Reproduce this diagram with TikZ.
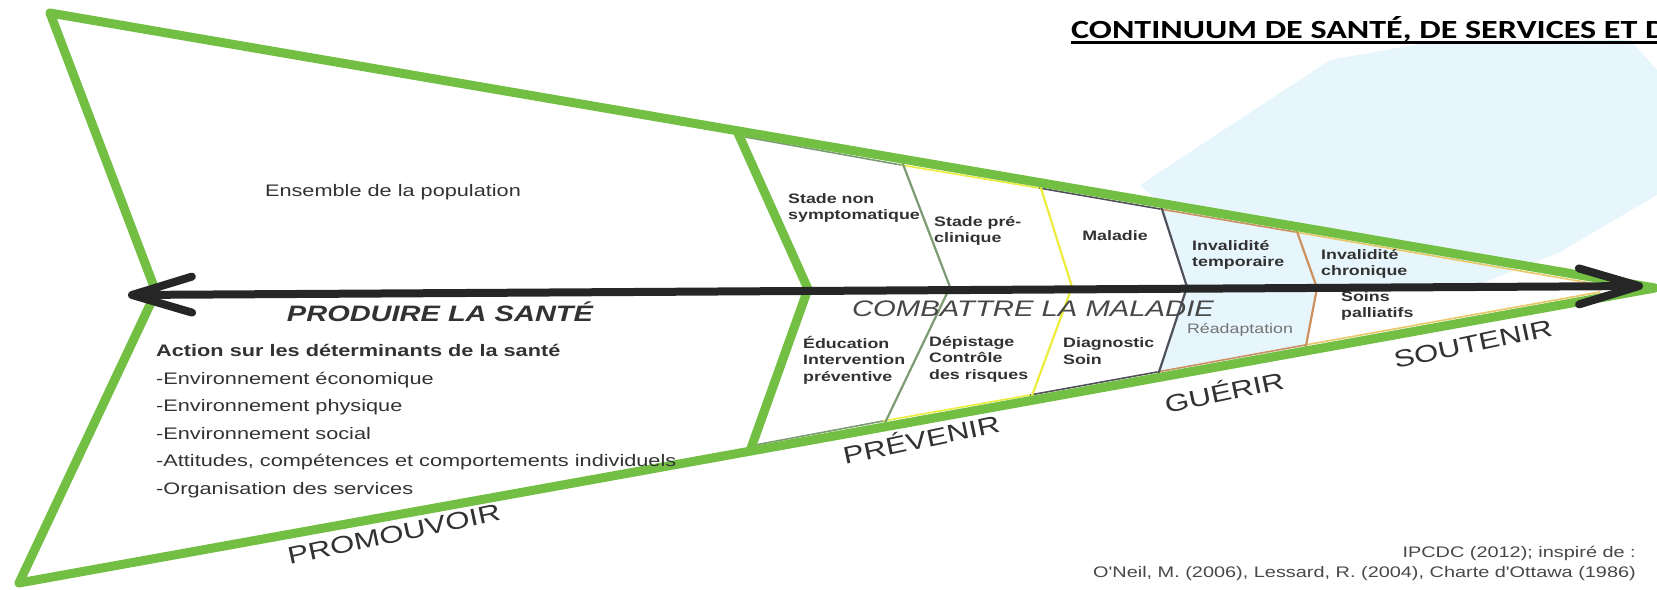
\documentclass[tikz,border=0pt]{standalone}
\usepackage{fontspec}
\setmainfont{Liberation Sans}
\newfontfamily\arialx{Liberation Sans}[FakeStretch=1.3]
\newfontfamily\calibx{Carlito}[FakeStretch=1.3]
\usetikzlibrary{arrows.meta}
\definecolor{vertc}{RGB}{114,191,68}
\definecolor{grisvert}{RGB}{125,155,115}
\definecolor{jaunec}{RGB}{236,236,60}
\definecolor{grisc}{RGB}{80,80,92}
\definecolor{orangec}{RGB}{205,145,95}
\definecolor{pointec}{RGB}{232,200,100}
\definecolor{bleuc}{RGB}{231,246,252}
\definecolor{textec}{RGB}{50,50,50}
\tikzset{
  vert/.style={draw=vertc, line width=9pt, line join=round, line cap=round},
  borne/.style={line width=2.2pt},
  liseret/.style={line width=1.6pt},
  fleche/.style={draw=black!85, line width=8pt,
    {Straight Barb[length=60pt,width=36pt,round]}-{Straight Barb[length=60pt,width=36pt,round]}},
  corps/.style={font=\arialx\fontsize{16.7}{27.5}\selectfont, text=textec, inner sep=0pt},
  stade/.style={font=\arialx\bfseries\fontsize{13.7}{16.5}\selectfont, text=textec,
    inner sep=0pt, align=left, anchor=west},
  verbe/.style={font=\arialx\fontsize{24}{24}\selectfont, text=textec, inner sep=0pt, rotate=12},
}
\begin{document}
\begin{tikzpicture}[x=1pt, y=-1pt]
    \useasboundingbox (0,0) rectangle (1657,589);
    \fill[bleuc] (1157,378)--(1187,287)--(1160,203)--(1140,185)--(1330,60)--(1430,42)--(1630,40)
        --(1657,70)--(1657,195)--(1560,252)--(1480,284)--(1317,289)--(1305,351)--cycle;

    \coordinate (hautg) at (50,13);
    \coordinate (milg) at (156,292);
    \coordinate (basg) at (19,583);
    \coordinate (pointe) at (1655,288);

    % liserets des stades
    \draw[liseret, pointec] (1295,232)--(1590,283);
    \draw[liseret, pointec] (1305,345)--(1600,292);
    \draw[borne, orangec] (1295,226)--(1317,288)--(1305,351);
    \draw[liseret, orangec] (1160,209)--(1295,232);
    \draw[liseret, orangec] (1157,372)--(1305,345);
    \draw[borne, grisc] (1160,203)--(1187,287)--(1157,378);
    \draw[liseret, grisc] (1039,188)--(1160,209);
    \draw[liseret, grisc] (1030,395)--(1157,372);
    \draw[borne, jaunec] (1039,182)--(1072,287)--(1030,401);
    \draw[liseret, jaunec] (901,165)--(1039,188);
    \draw[liseret, jaunec] (883,421)--(1030,395);
    \draw[borne, grisvert] (901,159)--(950,287)--(883,427);
    \draw[liseret, grisvert] (745,137)--(901,165);
    \draw[liseret, grisvert] (755,445)--(883,421);

    \draw[vert] (hautg)--(pointe)--(basg)--(milg)--cycle;
    \draw[vert] (737,131)--(808,289)--(750,451);

    \coordinate (axeg) at (128,295);
    \coordinate (axed) at (1643,286);
    \draw[fleche] (axeg)--(axed);

    \node[corps] (ensemble) at (393,192) {Ensemble de la population};
    \node[corps, font=\arialx\bfseries\itshape\fontsize{22.3}{22.3}\selectfont] (produire) at (440,312) {PRODUIRE LA SANTÉ};
    \node[corps, font=\arialx\itshape\fontsize{22.5}{22.5}\selectfont, text=black!72] (combattre) at (1033,309) {COMBATTRE LA MALADIE};
    \node[corps, align=left, anchor=west] (determinants) at (156,421) {\textbf{Action sur les déterminants de la santé}\\-Environnement économique\\-Environnement physique\\-Environnement social\\-Attitudes, compétences et comportements individuels\\-Organisation des services};

    \node[stade] (nonsympt) at (788,208) {Stade non\\symptomatique};
    \node[stade] (preclin) at (934,231) {Stade pré-\\clinique};
    \node[stade, anchor=center] (maladie) at (1115,236) {Maladie};
    \node[stade] (invtemp) at (1192,255) {Invalidité\\temporaire};
    \node[stade] (invchron) at (1321,264) {Invalidité\\chronique};
    \node[stade] (palliatif) at (1341,306) {Soins\\palliatifs};
    \node[stade] (education) at (803,360) {Éducation\\Intervention\\préventive};
    \node[stade] (depistage) at (929,359) {Dépistage\\Contrôle\\des risques};
    \node[stade] (diagnostic) at (1063,351) {Diagnostic\\Soin};
    \node[stade, anchor=center, font=\arialx\fontsize{13.7}{16.5}\selectfont, text=black!55] (readapt) at (1240,330) {Réadaptation};

    \node[verbe] (promouvoir) at (394,534) {PROMOUVOIR};
    \node[verbe] (prevenir) at (921,438) {PRÉVENIR};
    \node[verbe] (guerir) at (1224,391) {GUÉRIR};
    \node[verbe] (soutenir) at (1473,344) {SOUTENIR};

    \node[corps, font=\arialx\fontsize{15.3}{20}\selectfont, text=black!72, align=right, anchor=east] (source) at (1636,563) {IPCDC (2012); inspiré de :\\O'Neil, M. (2006), Lessard, R. (2004), Charte d'Ottawa (1986)};

    \node[inner sep=0pt, anchor=base west, font=\calibx\bfseries\fontsize{26.2}{26.2}\selectfont] (titre) at (1071,38) {CONTINUUM DE SANTÉ, DE SERVICES ET D};
    \draw[line width=2.5pt] ([yshift=-4.5pt]titre.base west)--([yshift=-4.5pt]titre.base east);
\end{tikzpicture}
\end{document}
